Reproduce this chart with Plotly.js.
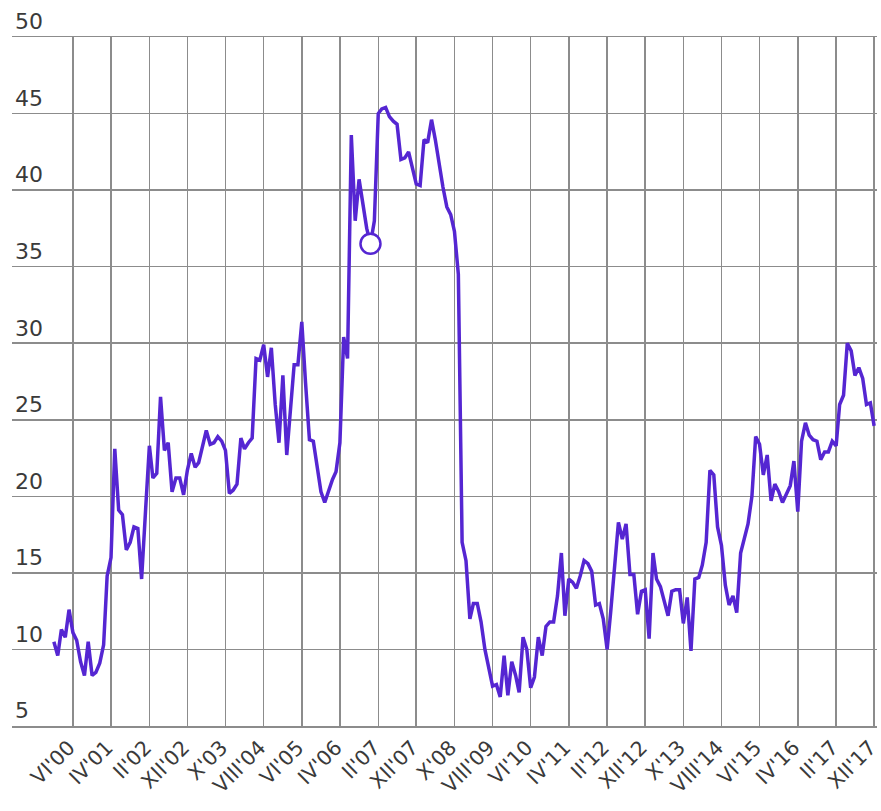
<!DOCTYPE html>
<html>
<head>
<meta charset="utf-8">
<script src="https://cdn.plot.ly/plotly-3.0.1.min.js"></script>
<style>
  html, body { margin: 0; padding: 0; background: #ffffff; }
  #chart { width: 881px; height: 811px; }
</style>
</head>
<body>
<div id="chart"></div>
<script>
// Monthly series, January 2000 – December 2017
const startYear = 2000;
const values = [
  10.5, 9.6, 11.3, 10.8, 12.6, 11.1, 10.6, 9.2, 8.3, 10.5, 8.3, 8.5,      // 2000
  9.1, 10.3, 14.8, 16.0, 23.1, 19.1, 18.8, 16.5, 17.0, 18.0, 17.9, 14.6,  // 2001
  19.0, 23.3, 21.2, 21.5, 26.5, 23.0, 23.5, 20.3, 21.2, 21.2, 20.1, 21.7, // 2002
  22.8, 21.9, 22.2, 23.4, 24.3, 23.4, 23.5, 23.9, 23.6, 23.0, 20.2, 20.4, // 2003
  20.8, 23.8, 23.1, 23.5, 23.8, 29.0, 28.9, 29.9, 27.8, 29.7, 26.0, 23.5, // 2004
  27.9, 22.7, 25.5, 28.6, 28.6, 31.4, 27.4, 23.7, 23.6, 22.0, 20.3, 19.6, // 2005
  20.4, 21.1, 21.6, 23.5, 30.4, 29.0, 43.6, 38.0, 40.7, 39.0, 37.5, 36.5, // 2006
  38.0, 45.0, 45.3, 45.4, 44.8, 44.5, 44.3, 42.0, 42.1, 42.5, 41.5, 40.4, // 2007
  40.3, 43.3, 43.1, 44.6, 43.3, 41.6, 40.2, 38.9, 38.4, 37.3, 34.5, 17.0, // 2008
  15.8, 12.0, 13.0, 13.0, 11.8, 10.0, 8.8, 7.6, 7.7, 6.9, 9.6, 7.0,       // 2009
  9.2, 8.3, 7.2, 10.8, 10.0, 7.5, 8.2, 10.8, 9.6, 11.5, 11.8, 11.8,       // 2010
  13.5, 16.3, 12.2, 14.6, 14.4, 14.0, 14.8, 15.8, 15.6, 15.1, 12.9, 13.0, // 2011
  12.0, 10.0, 12.5, 15.7, 18.3, 17.2, 18.2, 14.9, 14.9, 12.3, 13.8, 13.9, // 2012
  10.7, 16.3, 14.6, 14.1, 13.1, 12.2, 13.8, 13.9, 13.9, 11.7, 13.4, 9.9,  // 2013
  14.6, 14.7, 15.5, 17.0, 21.7, 21.4, 18.0, 16.8, 14.2, 12.9, 13.5, 12.4, // 2014
  16.3, 17.4, 18.2, 20.0, 23.9, 23.4, 21.4, 22.7, 19.7, 20.8, 20.3, 19.6, // 2015
  20.2, 20.7, 22.3, 19.0, 23.6, 24.8, 24.0, 23.7, 23.6, 22.4, 22.9, 22.9, // 2016
  23.6, 23.3, 26.0, 26.6, 30.0, 29.5, 27.9, 28.4, 27.7, 26.0, 26.1, 24.6  // 2017
];

// Highlighted point (open circle): December 2006
const highlightDate = '2006-12-01';

// X tick positions and labels
const tickDates = [
  '2000-06-01', '2001-04-01', '2002-02-01', '2002-12-01', '2003-10-01', '2004-08-01',
  '2005-06-01', '2006-04-01', '2007-02-01', '2007-12-01', '2008-10-01', '2009-08-01',
  '2010-06-01', '2011-04-01', '2012-02-01', '2012-12-01', '2013-10-01', '2014-08-01',
  '2015-06-01', '2016-04-01', '2017-02-01', '2017-12-01'
];
const tickLabels = [
  "VI'00", "IV'01", "II'02", "XII'02", "X'03", "VIII'04",
  "VI'05", "IV'06", "II'07", "XII'07", "X'08", "VIII'09",
  "VI'10", "IV'11", "II'12", "XII'12", "X'13", "VIII'14",
  "VI'15", "IV'16", "II'17", "XII'17"
];
const yTicks = [5, 10, 15, 20, 25, 30, 35, 40, 45, 50];

const dates = values.map((_, i) => {
  const y = startYear + Math.floor(i / 12);
  const m = (i % 12) + 1;
  return y + '-' + String(m).padStart(2, '0') + '-01';
});
const hIdx = dates.indexOf(highlightDate);

const lineColor = '#5526d2';
const gridColor = '#8c8c8c';
const textColor = '#3a3a3a';

const traces = [
  {
    x: dates, y: values, type: 'scatter', mode: 'lines',
    line: { color: lineColor, width: 3.5 },
    hoverinfo: 'x+y', showlegend: false
  },
  {
    x: [dates[hIdx]], y: [values[hIdx]], type: 'scatter', mode: 'markers',
    marker: { symbol: 'circle', size: 20, color: '#ffffff', line: { color: lineColor, width: 2.5 } },
    showlegend: false
  }
];

const layout = {
  width: 881, height: 811,
  margin: { l: 12, r: 4, t: 36.5, b: 84.6 },
  paper_bgcolor: '#ffffff', plot_bgcolor: '#ffffff',
  font: { family: 'DejaVu Sans, sans-serif', color: textColor },
  xaxis: {
    type: 'date',
    range: ['1999-02-01', '2017-12-24'],
    tickmode: 'array', tickvals: tickDates, ticktext: tickLabels,
    tickangle: -45,
    ticklabeloverflow: 'allow',
    ticklabelshift: -4,
    automargin: false,
    tickfont: { size: 20.5, color: textColor, family: 'DejaVu Sans, sans-serif' },
    showgrid: true, gridcolor: gridColor, gridwidth: 1.5,
    zeroline: false,
    showline: true, mirror: true, linecolor: gridColor, linewidth: 1.5,
    ticks: '', fixedrange: true
  },
  yaxis: {
    range: [5, 50],
    tickmode: 'array', tickvals: yTicks,
    ticklabelposition: 'inside top',
    ticklabeloverflow: 'allow',
    automargin: false,
    tickfont: { size: 22, color: textColor, family: 'DejaVu Sans, sans-serif' },
    showgrid: true, gridcolor: gridColor, gridwidth: 1.5,
    zeroline: false, showline: false,
    ticks: '', fixedrange: true
  },
  hovermode: false
};

Plotly.newPlot('chart', traces, layout, { displayModeBar: false, staticPlot: true });
</script>
</body>
</html>
